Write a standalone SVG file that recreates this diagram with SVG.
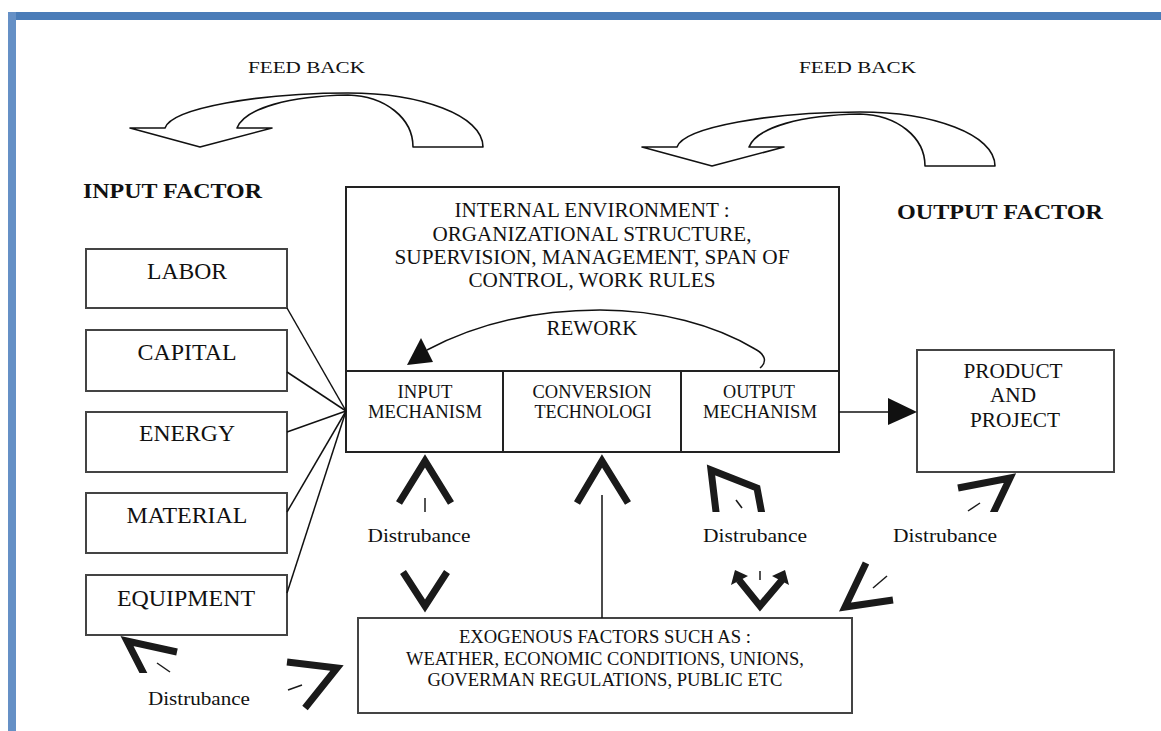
<svg xmlns="http://www.w3.org/2000/svg" width="1161" height="731" viewBox="0 0 1161 731">
  <style>
    text { font-family: "Liberation Serif", "Times New Roman", serif; fill: #111; }
    .lbl { font-size: 19px; text-anchor: middle; }
    .big { font-size: 23px; text-anchor: middle; }
    .mid { font-size: 20px; text-anchor: middle; }
    .cell { font-size: 18px; text-anchor: middle; }
    .exo { font-size: 18px; text-anchor: middle; }
    .head { font-size: 22px; font-weight: bold; }
    .box { fill: #fff; stroke: #222; stroke-width: 2; }
    .fbox { fill: #fff; stroke: #444; stroke-width: 2; }
    .wire { fill: none; stroke: #111; stroke-width: 1.5; }
    .chev { fill: none; stroke: #1a1a1a; stroke-width: 7; stroke-linejoin: miter; stroke-linecap: butt; }
    .tick { fill: none; stroke: #1a1a1a; stroke-width: 1.5; }
    .fb { fill: #fff; stroke: #111; stroke-width: 1.6; stroke-linejoin: round; }
  </style>
  <defs>
    <path id="fbArrow" d="M165,128 C172,108 260,93 348,93 C420,93 483,115 483,147 L413,147 C413,118 385,96 348,95 C290,96 245,108 237,128 L272,128 L200,147 L130,128 Z"/>
    <clipPath id="clipOut"><rect x="690" y="440" width="100" height="72"/></clipPath>
    <clipPath id="clipProd"><rect x="940" y="470" width="100" height="42"/></clipPath>
    <clipPath id="clipEq"><rect x="100" y="630" width="100" height="43"/></clipPath>
  </defs>

  <rect width="1161" height="731" fill="#fff"/>

  <!-- page frame -->
  <rect x="8" y="12" width="1153" height="8" fill="#4a7cb8"/>
  <rect x="8" y="12" width="8" height="719" fill="#6590c6"/>

  <!-- feedback loops -->
  <g id="feedback-left">
    <use href="#fbArrow" class="fb"/>
    <text x="248" y="73" font-size="17" textLength="117" lengthAdjust="spacingAndGlyphs">FEED BACK</text>
  </g>
  <g id="feedback-right">
    <use href="#fbArrow" class="fb" transform="translate(512,19)"/>
    <text x="799" y="73" font-size="17" textLength="117" lengthAdjust="spacingAndGlyphs">FEED BACK</text>
  </g>

  <text class="head" x="83" y="198" textLength="179" lengthAdjust="spacingAndGlyphs">INPUT FACTOR</text>
  <text class="head" x="897" y="219" textLength="206" lengthAdjust="spacingAndGlyphs">OUTPUT FACTOR</text>

  <!-- input factors -->
  <g id="labor"><rect class="fbox" x="86" y="249" width="201" height="59"/><text class="big" x="187" y="279" textLength="80" lengthAdjust="spacingAndGlyphs">LABOR</text></g>
  <g id="capital"><rect class="fbox" x="86" y="330" width="201" height="61"/><text class="big" x="187" y="360" textLength="99" lengthAdjust="spacingAndGlyphs">CAPITAL</text></g>
  <g id="energy"><rect class="fbox" x="86" y="412" width="201" height="60"/><text class="big" x="187" y="441" textLength="96" lengthAdjust="spacingAndGlyphs">ENERGY</text></g>
  <g id="material"><rect class="fbox" x="86" y="493" width="201" height="60"/><text class="big" x="187" y="523" textLength="121" lengthAdjust="spacingAndGlyphs">MATERIAL</text></g>
  <g id="equipment"><rect class="fbox" x="86" y="575" width="201" height="60"/><text class="big" x="186" y="606" textLength="138" lengthAdjust="spacingAndGlyphs">EQUIPMENT</text></g>

  <!-- internal environment -->
  <g id="internal">
    <rect class="box" x="346" y="187" width="493" height="265"/>
    <line class="box" x1="346" y1="371" x2="839" y2="371"/>
    <line class="box" x1="503" y1="371" x2="503" y2="452"/>
    <line class="box" x1="681" y1="371" x2="681" y2="452"/>
    <text class="mid" x="592" y="217" textLength="275" lengthAdjust="spacingAndGlyphs">INTERNAL ENVIRONMENT :</text>
    <text class="mid" x="592" y="241" textLength="319" lengthAdjust="spacingAndGlyphs">ORGANIZATIONAL STRUCTURE,</text>
    <text class="mid" x="592" y="264" textLength="395" lengthAdjust="spacingAndGlyphs">SUPERVISION, MANAGEMENT, SPAN OF</text>
    <text class="mid" x="592" y="287" textLength="247" lengthAdjust="spacingAndGlyphs">CONTROL, WORK RULES</text>
    <text class="mid" x="592" y="335" textLength="91" lengthAdjust="spacingAndGlyphs">REWORK</text>
  </g>
  <g id="input-mechanism">
    <text class="cell" x="425" y="398" textLength="55" lengthAdjust="spacingAndGlyphs">INPUT</text>
    <text class="cell" x="425" y="418" textLength="114" lengthAdjust="spacingAndGlyphs">MECHANISM</text>
  </g>
  <g id="conversion">
    <text class="cell" x="592" y="398" textLength="119" lengthAdjust="spacingAndGlyphs">CONVERSION</text>
    <text class="cell" x="593" y="418" textLength="117" lengthAdjust="spacingAndGlyphs">TECHNOLOGI</text>
  </g>
  <g id="output-mechanism">
    <text class="cell" x="759" y="398" textLength="72" lengthAdjust="spacingAndGlyphs">OUTPUT</text>
    <text class="cell" x="760" y="418" textLength="114" lengthAdjust="spacingAndGlyphs">MECHANISM</text>
  </g>

  <!-- product -->
  <g id="product">
    <rect class="fbox" x="917" y="350" width="197" height="122"/>
    <text class="mid" x="1013" y="378" textLength="99" lengthAdjust="spacingAndGlyphs">PRODUCT</text>
    <text class="mid" x="1013" y="402" textLength="46" lengthAdjust="spacingAndGlyphs">AND</text>
    <text class="mid" x="1015" y="427" textLength="90" lengthAdjust="spacingAndGlyphs">PROJECT</text>
  </g>

  <!-- exogenous factors -->
  <g id="exogenous">
    <rect class="fbox" x="358" y="618" width="494" height="95"/>
    <text class="exo" x="605" y="643" textLength="292" lengthAdjust="spacingAndGlyphs">EXOGENOUS FACTORS SUCH AS :</text>
    <text class="exo" x="605" y="665" textLength="398" lengthAdjust="spacingAndGlyphs">WEATHER, ECONOMIC CONDITIONS, UNIONS,</text>
    <text class="exo" x="605" y="686" textLength="355" lengthAdjust="spacingAndGlyphs">GOVERMAN REGULATIONS, PUBLIC ETC</text>
  </g>

  <!-- connectors -->
  <g id="connectors">
    <line class="wire" x1="287" y1="308" x2="346" y2="411"/>
    <line class="wire" x1="287" y1="372" x2="346" y2="411"/>
    <line class="wire" x1="287" y1="432" x2="346" y2="411"/>
    <line class="wire" x1="287" y1="512" x2="346" y2="411"/>
    <line class="wire" x1="287" y1="593" x2="346" y2="411"/>
    <!-- output to product -->
    <line class="wire" x1="839" y1="412" x2="890" y2="412"/>
    <polygon points="888,398 917,412 888,425" fill="#111"/>
    <!-- rework loop -->
    <path class="wire" d="M760,368 C767,362 766,355 755,349 C715,325 660,310 600,310 C540,310 480,322 427,350"/>
    <polygon points="407,365 433,362 421,338" fill="#111"/>
    <!-- exogenous link to conversion -->
    <line class="wire" x1="602" y1="495" x2="602" y2="618"/>
  </g>

  <!-- disturbances -->
  <g id="dist-input">
    <polyline class="chev" points="399,503 425,461 451,503"/>
    <line class="tick" x1="425" y1="498" x2="425" y2="512"/>
    <text class="lbl" x="419" y="542" textLength="103" lengthAdjust="spacingAndGlyphs">Distrubance</text>
    <polyline class="chev" points="403,572 425,606 447,572"/>
  </g>
  <g id="dist-conversion">
    <polyline class="chev" points="577,503 602,461 628,503"/>
  </g>
  <g id="dist-output">
    <polyline class="chev" clip-path="url(#clipOut)" points="717,520 711,470 757,488 763,520"/>
    <line class="tick" x1="736" y1="500" x2="742" y2="508"/>
    <text class="lbl" x="755" y="542" textLength="104" lengthAdjust="spacingAndGlyphs">Distrubance</text>
    <polyline class="chev" points="739,580 760,606 782,580"/>
    <polygon points="731,585 735,570 748,576" fill="#1a1a1a"/>
    <polygon points="789,585 785,570 772,576" fill="#1a1a1a"/>
    <line class="tick" x1="760" y1="571" x2="760" y2="580"/>
  </g>
  <g id="dist-product">
    <polyline class="chev" clip-path="url(#clipProd)" points="958,488 1010,478 990,520"/>
    <line class="tick" x1="968" y1="511" x2="980" y2="503"/>
    <text class="lbl" x="945" y="542" textLength="104" lengthAdjust="spacingAndGlyphs">Distrubance</text>
  </g>
  <g id="dist-exogenous">
    <polyline class="chev" points="866,563 845,607 893,600"/>
    <line class="tick" x1="873" y1="588" x2="887" y2="576"/>
  </g>
  <g id="dist-equipment">
    <polyline class="chev" clip-path="url(#clipEq)" points="147,680 127,641 177,652"/>
    <line class="tick" x1="157" y1="663" x2="170" y2="672"/>
    <text class="lbl" x="199" y="705" textLength="102" lengthAdjust="spacingAndGlyphs">Distrubance</text>
  </g>
  <g id="dist-bottom">
    <polyline class="chev" points="287,662 337,668 305,708"/>
    <line class="tick" x1="288" y1="690" x2="302" y2="685"/>
  </g>
</svg>
